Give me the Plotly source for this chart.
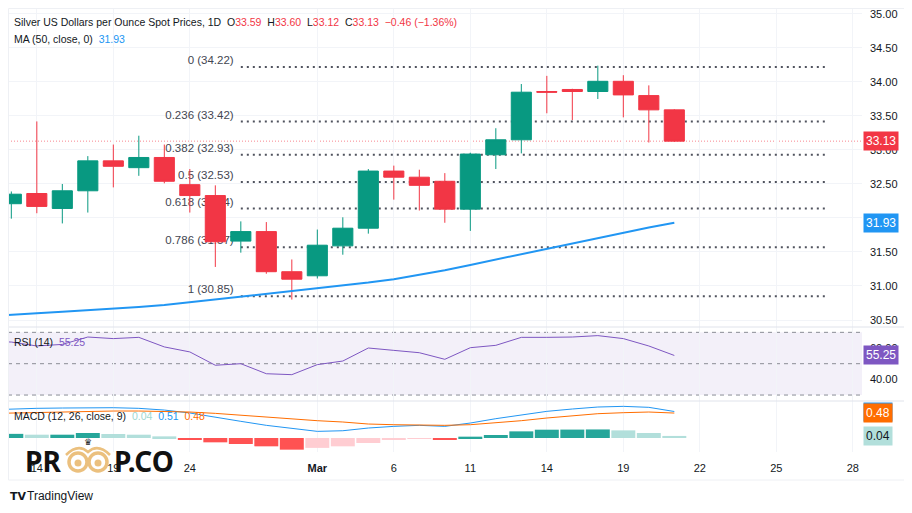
import plotly.graph_objects as go

# ---------------- data ----------------
dates = ["Feb 13", "Feb 14", "Feb 17", "Feb 18", "Feb 19", "Feb 20", "Feb 21", "Feb 24", "Feb 25",
         "Feb 26", "Feb 27", "Feb 28", "Mar 3", "Mar 4", "Mar 5", "Mar 6", "Mar 7", "Mar 10",
         "Mar 11", "Mar 12", "Mar 13", "Mar 14", "Mar 17", "Mar 18", "Mar 19", "Mar 20", "Mar 21"]
opens = [32.21, 32.36, 32.14, 32.40, 32.84, 32.74, 32.89, 32.49, 32.33, 31.66, 31.80, 31.21, 31.15, 31.59,
         31.85, 32.69, 32.60, 32.54, 32.13, 32.93, 33.15, 33.86, 33.89, 33.86, 34.01, 33.80, 33.59]
highs = [32.39, 33.42, 32.50, 32.91, 33.08, 33.21, 33.08, 32.72, 32.48, 31.95, 31.94, 31.39, 31.83, 32.01,
         32.72, 32.77, 32.71, 32.66, 32.96, 33.32, 33.97, 34.09, 33.90, 34.24, 34.10, 33.95, 33.60]
lows = [31.99, 32.07, 31.92, 32.08, 32.45, 32.62, 32.51, 32.08, 31.28, 31.49, 31.18, 30.80, 31.11, 31.46,
        31.77, 32.27, 32.11, 31.93, 31.81, 32.72, 32.95, 33.54, 33.44, 33.75, 33.48, 33.11, 33.12]
closes = [32.35, 32.17, 32.40, 32.84, 32.76, 32.89, 32.54, 32.33, 31.65, 31.80, 31.21, 31.10, 31.60, 31.85,
          32.69, 32.60, 32.48, 32.13, 32.94, 33.15, 33.85, 33.85, 33.86, 34.01, 33.81, 33.59, 33.13]

# indicator lines start one session earlier (Feb 12) so they reach the left edge
ma50 = [30.55, 30.58, 30.60, 30.62, 30.64, 30.66, 30.69, 30.72, 30.76, 30.80, 30.84, 30.88, 30.92, 30.96,
        31.00, 31.05, 31.10, 31.16, 31.23, 31.31, 31.39, 31.47, 31.55, 31.63, 31.71, 31.79, 31.86, 31.93]
rsi14 = [64.5, 63.8, 61.3, 62.3, 67.0, 66.0, 66.8, 60.7, 57.5, 49.0, 50.0, 43.6, 43.0, 49.4, 51.7,
         60.0, 58.5, 57.0, 52.8, 60.2, 61.7, 66.8, 66.8, 67.0, 67.9, 66.0, 61.3, 55.25]
macd_line = [0.54, 0.558, 0.571, 0.577, 0.583, 0.583, 0.571, 0.538, 0.481, 0.397, 0.321, 0.244, 0.179,
             0.128, 0.14, 0.192, 0.224, 0.244, 0.224, 0.288, 0.372, 0.449, 0.513, 0.558, 0.596, 0.609,
             0.590, 0.51]
signal_line = [0.47, 0.481, 0.494, 0.506, 0.513, 0.519, 0.519, 0.513, 0.500, 0.474, 0.436, 0.397, 0.365,
               0.333, 0.308, 0.269, 0.256, 0.250, 0.244, 0.256, 0.288, 0.333, 0.385, 0.429, 0.468, 0.487,
               0.500, 0.48]
macd_hist = [0.08, 0.064, 0.064, 0.096, 0.077, 0.064, 0.032, -0.02, -0.083, -0.115, -0.16, -0.224, -0.19,
             -0.16, -0.096, -0.032, -0.013, -0.03, 0.026, 0.058, 0.128, 0.16, 0.162, 0.165, 0.147, 0.096,
             0.04]

fib_ratios = ["0", "0.236", "0.382", "0.5", "0.618", "0.786", "1"]
fib_levels = [34.22, 33.42, 32.93, 32.53, 32.14, 31.57, 30.85]
fib_start, fib_end = 9, 32

tick_idx = [1, 4, 7, 12, 15, 18, 21, 24, 27, 30, 33]
tick_txt = ["14", "19", "24", "<b>Mar</b>", "6", "11", "14", "19", "22", "25", "28"]
price_ticks = [30.5, 31.0, 31.5, 32.0, 32.5, 33.0, 33.5, 34.0, 34.5, 35.0]

last_close = closes[-1]
ma_last = ma50[-1]
rsi_last = rsi14[-1]

# ---------------- style ----------------
GREEN, RED = "#089981", "#F23645"
BLUE, ORANGE, PURPLE = "#2196F3", "#FF6D00", "#7E57C2"
TXT = "#131722"
GRID = "#F2F4F8"
FONT = "Liberation Sans, Arial, sans-serif"
FS = 11

# page body has an 8px margin: the figure starts at (8, 8) of the window
OFF = 8
W, H = 912 - OFF, 513 - OFF
PL, PR, PT, PB = 8, 862, 8, 452  # plot area in window pixels


def px(x):
    return (x - PL) / (PR - PL)


def py(y):
    return (PB - y) / (PB - PT)


x_c = list(range(len(dates)))
x_l = list(range(-1, len(dates)))
xr = [-0.13, 33.36]

fig = go.Figure()

# fib retracement lines + labels (base layer of the price pane)
for lvl in fib_levels:
    fig.add_trace(go.Scatter(x=[fib_start, fib_end], y=[lvl, lvl], mode="lines",
                             line=dict(color="#50535E", width=2, dash="2px,4px"),
                             xaxis="x", yaxis="y", hoverinfo="skip", showlegend=False))
fig.add_trace(go.Scatter(x=[fib_start - 0.28] * len(fib_levels), y=fib_levels,
                         text=[f"{r} ({l:.2f})" for r, l in zip(fib_ratios, fib_levels)],
                         mode="text", textposition="top left",
                         textfont=dict(family=FONT, size=FS + 0.5, color="#434651"),
                         xaxis="x", yaxis="y", hoverinfo="skip", showlegend=False))

# candles (overlay layer above the fib drawing)
fig.add_trace(go.Candlestick(x=x_c, open=opens, high=highs, low=lows, close=closes,
                             increasing=dict(line=dict(color=GREEN, width=1), fillcolor=GREEN),
                             decreasing=dict(line=dict(color=RED, width=1), fillcolor=RED),
                             whiskerwidth=0, xaxis="x", yaxis="y4", showlegend=False, hoverinfo="skip"))
fig.add_trace(go.Scatter(x=x_l, y=ma50, mode="lines", line=dict(color=BLUE, width=2),
                         xaxis="x", yaxis="y4", showlegend=False, hoverinfo="skip"))

# RSI
fig.add_trace(go.Scatter(x=x_l, y=rsi14, mode="lines", line=dict(color=PURPLE, width=1),
                         xaxis="x2", yaxis="y2", showlegend=False, hoverinfo="skip"))

# MACD histogram colors (TradingView scheme)
hcol = []
prev = None
for v in macd_hist:
    if v >= 0:
        hcol.append("#26A69A" if (prev is None or v >= prev) else "#B2DFDB")
    else:
        hcol.append("#FF5252" if (prev is None or v <= prev) else "#FFCDD2")
    prev = v
fig.add_trace(go.Bar(x=x_c, y=macd_hist, marker=dict(color=hcol, line=dict(width=0)), width=0.94,
                     xaxis="x3", yaxis="y3", showlegend=False, hoverinfo="skip"))
fig.add_trace(go.Scatter(x=x_l, y=macd_line, mode="lines", line=dict(color=BLUE, width=1),
                         xaxis="x3", yaxis="y3", showlegend=False, hoverinfo="skip"))
fig.add_trace(go.Scatter(x=x_l, y=signal_line, mode="lines", line=dict(color=ORANGE, width=1),
                         xaxis="x3", yaxis="y3", showlegend=False, hoverinfo="skip"))

d_main = [py(327), 1]
d_rsi = [py(401), py(327)]
d_macd = [0, py(401)]

xcommon = dict(range=xr, tickvals=tick_idx, ticktext=tick_txt, showgrid=True, gridcolor=GRID,
               zeroline=False, showline=False, ticks="", fixedrange=True)
tickfont = dict(family=FONT, size=FS, color=TXT)

fig.update_layout(
    width=W, height=H,
    margin=dict(l=PL - OFF, r=W - (PR - OFF), t=PT - OFF, b=H - (PB - OFF), pad=0),
    paper_bgcolor="white", plot_bgcolor="rgba(0,0,0,0)",
    showlegend=False, hovermode=False,
    boxgap=0.1, boxgroupgap=0.125,
    xaxis=dict(**xcommon, anchor="y", showticklabels=False, rangeslider=dict(visible=False)),
    xaxis2=dict(**xcommon, anchor="y2", matches="x", showticklabels=False),
    xaxis3=dict(**xcommon, anchor="y3", matches="x", showticklabels=True, tickfont=tickfont,
                ticklabelstandoff=8),
    yaxis=dict(domain=d_main, range=[30.397, 35.088], side="right", tickvals=price_ticks,
               ticktext=[f"{v:.2f}" for v in price_ticks], tickfont=tickfont, showgrid=True,
               gridcolor=GRID, zeroline=False, ticks="", ticklabelstandoff=7, fixedrange=True,
               ticklabeloverflow="allow"),
    yaxis4=dict(overlaying="y", range=[30.397, 35.088], visible=False, fixedrange=True),
    yaxis2=dict(domain=d_rsi, range=[26.2, 73.4], side="right", tickvals=[40, 60],
                ticktext=["40.00", "60.00"], tickfont=tickfont, showgrid=False, zeroline=False,
                ticks="", ticklabelstandoff=7, fixedrange=True),
    yaxis3=dict(domain=d_macd, range=[-0.269, 0.712], side="right", showticklabels=False,
                showgrid=False, zeroline=False, ticks="", fixedrange=True),
)

shapes = []
# RSI band and levels
shapes.append(dict(type="rect", xref="x2 domain", yref="y2", x0=0, x1=1, y0=30, y1=70,
                   fillcolor="rgba(126,87,194,0.09)", line=dict(width=0), layer="below"))
for lv in [70, 50, 30]:
    shapes.append(dict(type="line", xref="x2 domain", yref="y2", x0=0, x1=1, y0=lv, y1=lv,
                       line=dict(color="#8A8D96", width=1, dash="4px,4px"), layer="below"))
# last price line
shapes.append(dict(type="line", xref="x domain", yref="y", x0=0, x1=1, y0=last_close, y1=last_close,
                   line=dict(color="rgba(242,54,69,0.6)", width=1, dash="1px,2px"), layer="below"))
# pane separators and frame
for yy in [327, 401]:
    shapes.append(dict(type="line", xref="paper", yref="paper", x0=px(8), x1=px(905), y0=py(yy), y1=py(yy),
                       line=dict(color="#E0E3EB", width=1)))
shapes.append(dict(type="rect", xref="paper", yref="paper", x0=px(8.5), x1=px(905), y0=py(480), y1=py(8.5),
                   line=dict(color="#EEF0F4", width=1), fillcolor="rgba(0,0,0,0)"))
# logo eyes
for cx in [78, 98]:
    shapes.append(dict(type="circle", xref="paper", yref="paper", x0=px(cx - 9), x1=px(cx + 9),
                       y0=py(462 + 9), y1=py(462 - 9), line=dict(color="#EBC07E", width=3.5),
                       fillcolor="rgba(0,0,0,0)"))
    shapes.append(dict(type="circle", xref="paper", yref="paper", x0=px(cx - 3.5), x1=px(cx + 3.5),
                       y0=py(463 + 3.5), y1=py(463 - 3.5), line=dict(width=0), fillcolor="#EBC07E"))
shapes.append(dict(type="path", xref="paper", yref="paper",
                   path=f"M {px(66)} {py(455)} Q {px(78)} {py(443)} {px(88)} {py(452)} "
                        f"Q {px(98)} {py(443)} {px(110)} {py(455)}",
                   line=dict(color="#EBC07E", width=2.5)))
fig.update_layout(shapes=shapes)

ann = []


def text(x, y, s, size=FS, color=TXT, anchor="left", family=FONT, **kw):
    ann.append(dict(xref="paper", yref="paper", x=px(x), y=py(y), text=s, showarrow=False,
                    xanchor=anchor, yanchor="middle", font=dict(family=family, size=size, color=color), **kw))


def r(v):
    return f"<span style='color:{RED}'>{v}</span>"


o, h, l, c = opens[-1], highs[-1], lows[-1], closes[-1]
chg = c - o
pct = -1.36
hdr = (f"Silver US Dollars per Ounce Spot Prices, 1D  O{r(f'{o:.2f}')}  H{r(f'{h:.2f}')}  "
       f"L{r(f'{l:.2f}')}  C{r(f'{c:.2f}')}  {r(f'−{abs(chg):.2f} (−{abs(pct):.2f}%)')}")
text(12, 22, hdr, size=10.5)
text(12, 39, f"MA (50, close, 0)  <span style='color:{BLUE}'>{ma_last:.2f}</span>", size=10.5)
text(12, 342, f"RSI (14)  <span style='color:{PURPLE}'>{rsi_last:.2f}</span>", size=10.5)
text(12, 416, f"MACD (12, 26, close, 9)  <span style='color:#9ED8D0'>{macd_hist[-1]:.2f}</span>  "
              f"<span style='color:{BLUE}'>{macd_line[-1]:.2f}</span>  "
              f"<span style='color:{ORANGE}'>{signal_line[-1]:.2f}</span>", size=10.5)


def badge(yref, y, s, bg, fg="white"):
    ann.append(dict(xref="paper", yref=yref, x=1, y=y, text=s, showarrow=False, xanchor="left",
                    yanchor="middle", xshift=1, bgcolor=bg, borderpad=2,
                    font=dict(family=FONT, size=FS + 1, color=fg)))


badge("y", last_close, f"{last_close:.2f}", RED)
badge("y", ma_last, f"{ma_last:.2f}", BLUE)
badge("y2", rsi_last, f"{rsi_last:.2f}", PURPLE)
badge("y3", macd_line[-1], f"{macd_line[-1]:.2f}", BLUE)
badge("y3", signal_line[-1], f"{signal_line[-1]:.2f}", ORANGE)
badge("y3", macd_hist[-1], f"{macd_hist[-1]:.2f}", "#B2DFDB", TXT)

# watermark logo
LOGO = "Noto Sans, DejaVu Sans, sans-serif"
text(23, 461, "<b>PR</b>", size=28, color="#111111", family=LOGO)
text(112, 461, "<b>P.CO</b>", size=28, color="#111111", family=LOGO)
text(88, 442, "♛", size=9, color="#222222", anchor="center", family="DejaVu Sans, sans-serif")
# footer
text(8, 496, "<b>TV</b>", size=11, color=TXT, family="DejaVu Sans, sans-serif")
text(25, 496, "TradingView", size=12, color=TXT)

fig.update_layout(annotations=ann)
fig.write_html("out.html")
